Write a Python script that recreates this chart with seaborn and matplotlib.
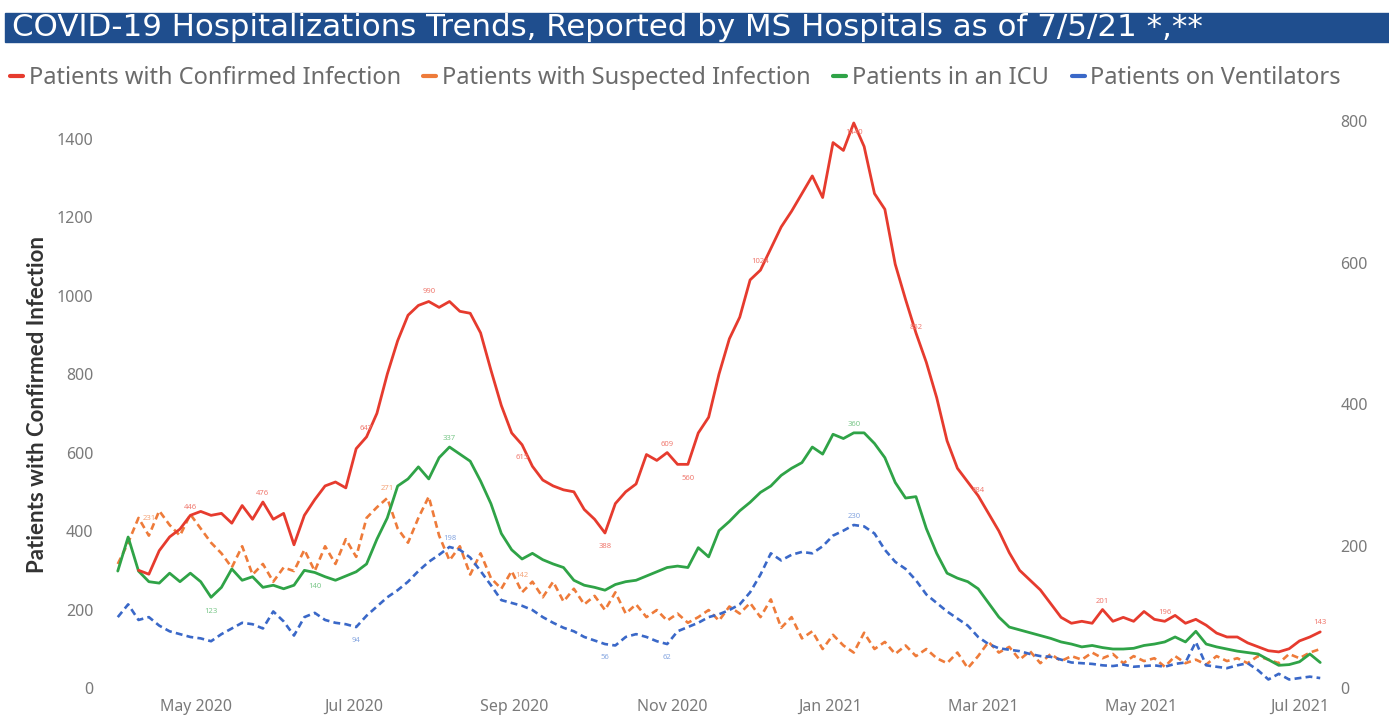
import matplotlib
matplotlib.use("Agg")
import matplotlib.pyplot as plt
import matplotlib.dates as mdates
from matplotlib.lines import Line2D
from matplotlib.patches import Rectangle
import numpy as np
import pandas as pd
import seaborn as sns

nan = np.nan

# readings every 4 days starting 2020-04-01
START = "2020-04-01"

confirmed = [
    nan, nan, 300, 290, 350, 385, 405, 440, 450, 440, 445, 420, 465, 430, 474, 430,
    445, 365, 440, 480, 515, 525, 510, 610, 640, 700, 800, 885, 950, 975, 985, 970,
    985, 960, 955, 905, 810, 720, 650, 620, 565, 530, 515, 505, 500, 455, 430, 395,
    470, 500, 520, 595, 580, 600, 570, 570, 650, 690, 800, 890, 945, 1040, 1065, 1120,
    1175, 1215, 1260, 1305, 1250, 1390, 1370, 1440, 1380, 1260, 1220, 1080, 990, 905,
    830, 740, 630, 560, 525, 490, 445, 400, 345, 300, 275, 250, 215, 180, 165, 170,
    165, 200, 170, 180, 170, 195, 175, 170, 185, 165, 175, 160, 140, 130, 130, 115,
    105, 95, 92, 100, 120, 130, 143,
]
suspected = [
    175, 205, 240, 215, 250, 230, 215, 245, 225, 205, 190, 170, 200, 160, 175, 150,
    170, 165, 195, 165, 200, 175, 210, 185, 240, 255, 268, 225, 205, 240, 270, 215,
    180, 200, 160, 190, 155, 140, 165, 135, 150, 128, 150, 122, 140, 118, 130, 110,
    135, 105, 118, 100, 110, 95, 105, 92, 100, 110, 95, 115, 105, 120, 100, 125,
    85, 100, 70, 80, 55, 75, 60, 50, 78, 55, 65, 48, 60, 45, 55, 42,
    35, 50, 28, 45, 65, 50, 58, 40, 52, 35, 48, 38, 45, 40, 50, 42,
    48, 35, 45, 38, 42, 30, 45, 35, 40, 33, 45, 38, 42, 35, 45, 40,
    35, 48, 42, 50, 55,
]
icu = [
    165, 213, 165, 150, 148, 162, 150, 162, 150, 128, 142, 168, 152, 157, 142, 145,
    140, 145, 166, 163, 157, 152, 158, 164, 175, 210, 240, 285, 295, 312, 295, 325,
    340, 330, 320, 292, 260, 218, 195, 182, 190, 181, 175, 170, 152, 145, 142, 138,
    146, 150, 152, 158, 164, 170, 172, 170, 198, 185, 222, 235, 250, 262, 276, 285,
    300, 310, 318, 340, 330, 358, 352, 360, 360, 345, 325, 290, 268, 270, 225, 190,
    162, 155, 150, 140, 120, 100, 86, 82, 78, 74, 70, 65, 62, 58, 60, 57,
    55, 55, 56, 60, 62, 65, 72, 65, 80, 62, 58, 55, 52, 50, 48, 40,
    32, 33, 37, 48, 36,
]
ventilators = [
    100, 118, 96, 100, 88, 80, 76, 72, 70, 66, 76, 84, 92, 90, 84, 108,
    94, 74, 100, 106, 96, 92, 90, 86, 102, 115, 128, 138, 150, 165, 178, 188,
    199, 195, 184, 165, 145, 124, 120, 116, 110, 100, 92, 85, 80, 72, 67, 62,
    60, 72, 76, 72, 66, 62, 80, 86, 92, 100, 104, 110, 118, 135, 160, 190,
    180, 188, 192, 190, 200, 215, 222, 230, 228, 218, 195, 178, 168, 152, 132, 120,
    108, 98, 88, 72, 62, 56, 54, 52, 48, 45, 44, 40, 36, 35, 34, 32,
    31, 33, 30, 31, 32, 30, 34, 36, 65, 32, 30, 28, 32, 35, 25, 12,
    20, 12, 14, 16, 14,
]

series_names = [
    "Patients with Confirmed Infection",
    "Patients with Suspected Infection",
    "Patients in an ICU",
    "Patients on Ventilators",
]
colors = ["#E63B2E", "#EE7B3A", "#2FA347", "#3A68C8"]
label_colors = ["#F07A70", "#F4A57A", "#7CC88B", "#86A6E0"]

# (series index, point index, text, offset in points)
point_labels = [
    (0, 7, "446", 6), (0, 14, "476", 6), (0, 24, "647", 6), (0, 30, "990", 7),
    (0, 39, "615", -9), (0, 47, "388", -10), (0, 53, "609", 6), (0, 55, "560", -10),
    (0, 62, "1024", 6), (0, 71, "1440", -7), (0, 77, "852", 4), (0, 83, "484", 4),
    (0, 95, "201", 6), (0, 101, "196", 6), (0, 116, "143", 7),
    (1, 3, "231", 12), (1, 26, "271", 7), (1, 39, "142", 12),
    (2, 32, "337", 6), (2, 71, "360", 6), (2, 9, "123", -10), (2, 19, "140", -10),
    (3, 32, "198", 6), (3, 71, "230", 6), (3, 23, "94", -10), (3, 47, "56", -10),
    (3, 53, "62", -10),
]

dates = pd.date_range(START, periods=len(confirmed), freq="4D")
df = pd.DataFrame({
    "date": dates,
    series_names[0]: confirmed,
    series_names[1]: suspected,
    series_names[2]: icu,
    series_names[3]: ventilators,
})

sns.set_style("white")
plt.rcParams["font.family"] = ["Noto Sans", "DejaVu Sans"]

W, H = 1389, 718
fig = plt.figure(figsize=(W / 100, H / 100), dpi=100)
fig.patch.set_facecolor("white")

ax = fig.add_axes([110 / W, 30 / H, 1218 / W, 567 / H])
ax2 = ax.twinx()

sns.lineplot(data=df, x="date", y=series_names[1], ax=ax2, color=colors[1],
             linewidth=1.9, linestyle=(0, (2.6, 1.6)))
sns.lineplot(data=df, x="date", y=series_names[3], ax=ax2, color=colors[3],
             linewidth=1.9, linestyle=(0, (2.6, 1.6)))
sns.lineplot(data=df, x="date", y=series_names[2], ax=ax2, color=colors[2],
             linewidth=2.0)
sns.lineplot(data=df, x="date", y=series_names[0], ax=ax, color=colors[0],
             linewidth=2.0)
ax.set_zorder(ax2.get_zorder() + 1)
ax.patch.set_visible(False)

values = [confirmed, suspected, icu, ventilators]
for s, i, txt, dy in point_labels:
    target = ax if s == 0 else ax2
    target.annotate(txt, (dates[i], values[s][i]), xytext=(0, dy),
                    textcoords="offset points", ha="center", va="center",
                    fontsize=5.5, color=label_colors[s])

ax.set_xlim(pd.Timestamp("2020-03-29"), pd.Timestamp("2021-07-12"))
ax.set_ylim(0, 1445)
ax2.set_ylim(0, 800)
ax.set_yticks(range(0, 1401, 200))
ax2.set_yticks(range(0, 801, 200))
ax.xaxis.set_major_locator(mdates.MonthLocator(bymonth=[1, 3, 5, 7, 9, 11]))
ax.xaxis.set_major_formatter(mdates.DateFormatter("%b %Y"))

for a in (ax, ax2):
    for sp in a.spines.values():
        sp.set_visible(False)
    a.tick_params(length=0, labelsize=11.5, labelcolor="#7a7a7a")
ax.tick_params(axis="y", pad=12)
ax2.tick_params(axis="y", pad=9)
ax.tick_params(axis="x", pad=8)
ax.set_xlabel("")
ax2.set_ylabel("")
ax.set_ylabel("Patients with Confirmed Infection", fontsize=16, color="#333333",
              fontweight="bold", labelpad=6, family=["Lato", "DejaVu Sans"])

# title bar
fig.patches.append(Rectangle((5 / W, 1 - 42 / H), 1384 / W, 29 / H,
                             transform=fig.transFigure, color="#1F4E8E", zorder=0))
fig.text(12 / W, 1 - 28 / H,
         "COVID-19 Hospitalizations Trends, Reported by MS Hospitals as of 7/5/21 *,**",
         color="white", fontsize=22.2, va="center", ha="left",
         family=["DejaVu Sans"])

handles = [Line2D([], [], color=c, linewidth=3) for c in colors]
fig.legend(handles, series_names, loc="center left",
           bbox_to_anchor=(10 / W, 1 - 78 / H), ncol=4, frameon=False,
           fontsize=17, handlelength=0.55, handletextpad=0.25,
           columnspacing=0.95, borderaxespad=0, borderpad=0,
           labelcolor="#6b6b6b")

fig.savefig("out.png", dpi=100)
